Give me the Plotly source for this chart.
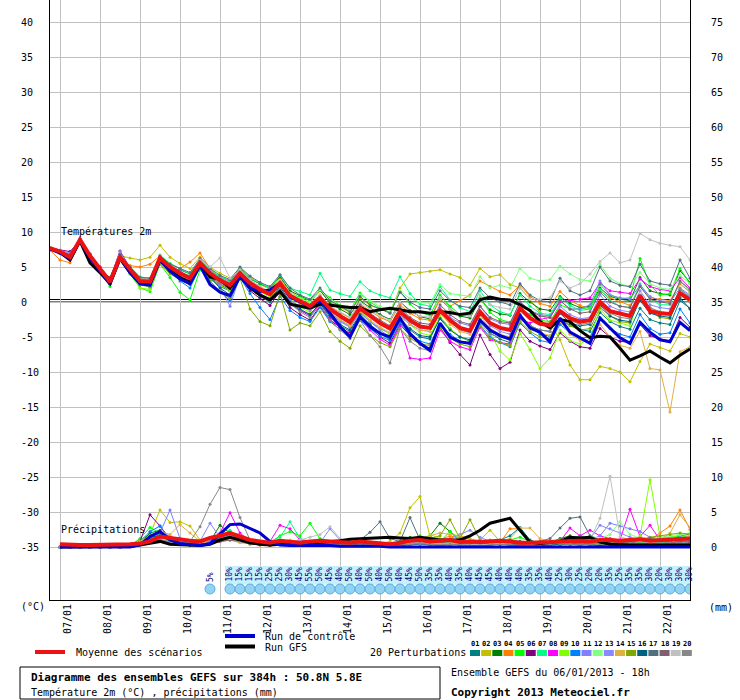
#!/usr/bin/env python3
"""
plot.py - Diagramme des ensembles GEFS (T2m + précipitations), style Meteociel
"""

import plotly.graph_objects as go

# Pas de 6h depuis le 06/01/2013 18h jusqu'à +384h
STEPS_H = list(range(0, 385, 6))
DAY_LABELS = ["07/01", "08/01", "09/01", "10/01", "11/01", "12/01", "13/01", "14/01",
              "15/01", "16/01", "17/01", "18/01", "19/01", "20/01", "21/01", "22/01"]
DAY_HOURS = [6 + 24 * k for k in range(16)]
TEMP_TICKS = list(range(-35, 41, 5))
RAIN_TICKS = list(range(0, 76, 5))

# Températures 2m (°C), 65 échéances
T_MEAN = [7.7, 7.2, 6.4, 8.9, 6.6, 4.8, 2.9, 6.4, 4.6, 3.0, 2.9, 6.3, 5.0, 4.1, 3.4, 5.6, 4.1,
          3.1, 2.4, 4.1, 2.7, 1.8, 1.1, 2.7, 0.9, 0.1, -0.6, 0.6, -1.0, -2.0, -2.9, -0.9, -1.9,
          -3.0, -3.8, -1.4, -2.6, -3.5, -3.7, -1.2, -2.6, -3.7, -4.1, -1.4, -3.0, -3.7, -4.0, -0.9, -2.3,
          -3.1, -3.3, -1.3, -2.3, -2.8, -2.6, 0.0, -1.3, -1.7, -2.0, 0.9, -1.3, -1.6, -1.7, 1.3, 0.3]
T_CTRL = [7.6, 7.0, 6.2, 8.8, 6.3, 4.5, 2.6, 6.3, 4.2, 2.6, 2.4, 6.0, 4.4, 3.3, 2.6, 5.2, 2.5,
          1.4, 0.9, 3.6, 2.0, 1.5, 1.7, 2.7, 0.7, 0.0, -0.7, 0.3, -1.6, -3.5, -5.0, -2.1, -3.5,
          -4.5, -5.0, -2.3, -4.5, -5.9, -6.9, -3.0, -5.0, -5.7, -5.9, -2.6, -4.0, -4.8, -5.3, -1.9, -3.7,
          -4.3, -5.7, -2.3, -4.3, -5.1, -5.9, -2.3, -3.7, -5.1, -5.9, -2.9, -4.3, -5.4, -5.7, -2.9, -4.1]
T_GFS = [7.6, 7.1, 6.0, 8.7, 5.6, 4.2, 2.6, 6.2, 4.2, 2.7, 2.6, 6.0, 4.5, 3.5, 2.8, 5.3, 3.6,
         3.2, 2.0, 4.0, 2.0, 1.0, 0.3, 1.5, -0.3, -0.6, -0.9, -0.3, -0.5, -0.6, -0.8, -0.8, -1.4,
         -1.1, -0.9, -1.1, -1.4, -1.4, -1.6, -1.4, -1.5, -1.8, -1.6, 0.3, 0.7, 0.4, 0.3, -0.4, -1.2,
         -2.8, -3.7, -2.5, -2.8, -4.1, -5.1, -4.9, -5.0, -6.6, -8.3, -7.7, -7.0, -7.9, -8.7, -7.6, -6.7]

t01 = [7.6, 7.0, 6.2, 8.7, 6.3, 4.5, 2.7, 6.3, 4.5, 2.6, 2.5, 5.8, 4.6, 3.5, 3.0, 5.2, 3.4,
       2.2, 1.6, 3.6, 2.0, 0.8, 0.0, 1.8, -0.3, -1.2, -1.8, -0.2, -2.2, -3.4, -4.2, -2.0, -3.3,
       -4.5, -5.4, -2.6, -4.0, -5.0, -5.3, -2.2, -3.8, -5.0, -5.6, -2.5, -4.4, -5.3, -5.8, -2.4, -3.6,
       -4.6, -4.9, -2.6, -3.3, -3.9, -4.2, -1.5, -2.8, -3.5, -3.9, -0.9, -2.5, -3.0, -3.2, 0.2, -0.9]
t02 = [7.8, 7.3, 6.6, 8.8, 6.9, 5.0, 3.3, 6.6, 6.3, 6.0, 6.4, 8.1, 6.4, 5.5, 4.8, 6.4, 5.0,
       4.1, 3.4, 4.8, 3.6, 2.5, 1.8, 3.4, 1.5, 0.6, -0.1, 1.6, 0.0, -0.8, -1.5, 0.6, -0.5,
       -1.0, -1.5, 2.0, 4.0, 4.2, 4.4, 4.6, 4.0, 3.5, 2.4, 4.8, 3.6, 3.9, 2.5, 2.0, 0.4,
       -1.5, -3.0, -5.4, -9.0, -11.1, -11.1, -9.2, -9.5, -10.0, -11.4, -8.5, -6.0, -6.5, -7.0, -4.5, -5.0]
t03 = [7.7, 7.3, 6.5, 8.9, 6.5, 4.6, 3.5, 6.8, 4.4, 3.2, 2.0, 6.0, 4.8, 4.6, 4.0, 5.9, 4.5,
       3.6, 3.0, 4.8, 3.3, 2.6, 2.0, 3.6, 1.6, 0.9, 0.2, 1.7, -0.2, -1.0, -1.8, 0.2, -0.8,
       -1.8, -2.5, 0.0, -1.2, -2.1, -2.4, 0.5, -1.0, -2.0, -2.3, 0.4, -1.1, -1.7, -1.9, 1.2, 0.0,
       -1.0, -1.2, 0.8, -0.2, -0.8, -0.6, 2.0, 0.8, 0.4, 0.2, 3.5, 1.6, 1.2, 1.0, 4.5, 2.8]
t04 = [7.4, 6.0, 5.6, 8.6, 6.7, 4.9, 3.1, 6.4, 5.2, 5.0, 5.4, 6.6, 5.5, 4.8, 5.7, 7.0, 4.8,
       3.4, 2.8, 4.6, 3.0, 2.0, 1.4, 3.2, 1.2, 0.3, -0.3, 1.0, -0.6, -1.5, -2.3, -0.3, -1.2,
       -2.2, -2.8, -0.4, -1.6, -2.4, -2.6, 0.4, -0.6, 0.2, 1.0, 3.0, 2.2, 1.5, 1.0, 2.4, 0.8,
       -0.2, -0.6, 1.5, 0.2, -0.5, -0.9, 1.6, 0.6, 0.0, -0.5, 2.2, 0.6, 0.4, 0.2, 2.6, 1.4]
t05 = [7.7, 7.2, 6.3, 8.9, 6.4, 4.6, 2.2, 6.0, 4.0, 2.0, 1.5, 5.4, 3.5, 1.4, 0.3, 4.6, 3.2,
       2.4, 1.8, 3.8, 2.3, 1.6, 1.1, 2.9, 1.0, 0.7, 0.2, 1.7, 0.6, -0.5, -1.2, 1.3, 0.0,
       -0.9, -1.5, 1.5, -0.3, -1.5, -1.9, 1.0, -0.6, -1.8, -2.0, 0.6, -1.5, -2.5, -2.9, -0.8, -1.8,
       -2.6, -2.8, -0.4, -1.0, -1.0, -0.8, 2.5, 1.0, 0.5, 0.6, 6.2, 2.4, 1.0, 1.2, 4.8, 2.6]
t06 = [7.7, 7.4, 7.2, 8.8, 6.8, 5.0, 3.3, 7.3, 4.9, 2.8, 2.4, 6.0, 4.6, 3.6, 3.0, 5.4, 3.6,
       2.5, 1.6, 3.5, 1.6, 0.5, -0.5, 1.6, -0.8, -1.8, -2.6, -0.6, -2.6, -3.6, -4.5, -2.2, -3.6,
       -5.0, -5.9, -3.2, -4.8, -6.0, -6.6, -3.6, -5.8, -7.5, -9.0, -4.7, -7.5, -9.5, -8.6, -4.0, -5.6,
       -6.3, -6.8, -4.4, -5.6, -6.4, -6.6, -3.8, -5.0, -5.6, -5.8, -3.2, -4.8, -5.3, -5.5, -2.2, -3.6]
t07 = [7.7, 7.1, 6.4, 8.9, 6.7, 4.9, 3.0, 6.5, 5.0, 3.6, 3.4, 6.7, 5.5, 4.7, 4.0, 6.0, 4.6,
       3.6, 3.0, 4.7, 3.4, 2.7, 2.0, 3.8, 2.0, 1.5, 1.0, 4.1, 1.7, 1.2, 0.8, 2.9, 1.6,
       1.0, 0.6, 3.6, 1.2, -0.3, -0.6, 2.2, 0.3, -0.8, -1.4, 1.6, -0.4, -1.4, -1.8, 1.0, -0.6,
       -1.6, -1.8, 0.6, -0.5, -1.2, -1.0, 1.8, 0.2, -0.6, -0.8, 2.6, 0.4, -0.4, -0.4, 3.0, 1.5]
t08 = [7.7, 7.2, 6.4, 8.9, 6.6, 4.7, 2.8, 6.2, 4.5, 2.9, 2.7, 6.1, 4.8, 3.9, 3.2, 5.4, 3.9,
       2.8, 2.0, 3.9, 2.3, 1.2, 0.4, 2.1, 0.0, -1.2, -2.0, -0.4, -2.5, -3.6, -4.6, -2.4, -4.0,
       -5.3, -6.2, -3.5, -8.0, -8.2, -8.0, -4.0, -5.6, -6.4, -6.8, -3.6, -5.4, -5.8, -6.0, -2.4, -3.0,
       -2.5, -2.2, 0.0, 0.2, 0.4, 0.6, 2.7, 1.6, 1.4, 1.2, 3.3, 2.2, 1.8, 1.6, 3.5, 2.0]
t09 = [7.7, 7.2, 6.5, 8.9, 6.5, 4.8, 2.5, 6.2, 4.1, 2.0, 1.8, 5.6, 4.2, 3.2, 2.5, 5.0, 3.4,
       2.4, 1.6, 3.9, 2.5, 1.5, 0.6, 2.5, 0.4, -0.7, -1.5, 0.6, -1.6, -2.6, -3.4, -1.2, -2.6,
       -3.8, -4.6, -2.0, -3.2, -4.4, -4.8, -2.0, -3.8, -5.0, -5.5, -2.4, -4.4, -7.0, -8.3, -4.5, -6.8,
       -9.5, -8.0, -4.0, -5.5, -6.0, -5.2, -1.0, -2.6, -3.0, -3.4, 1.0, -1.0, -1.4, -1.6, 2.0, 0.6]
t10 = [7.6, 7.0, 6.2, 8.7, 6.4, 4.5, 2.6, 6.3, 4.3, 2.5, 2.2, 5.8, 4.4, 3.0, 2.0, 5.0, 3.0,
       1.5, 0.2, 3.5, 1.2, -0.8, -2.5, 0.8, -1.2, -2.2, -2.8, -0.8, -2.8, -3.9, -4.8, -2.6, -3.8,
       -4.9, -5.5, -3.0, -4.6, -5.6, -6.0, -3.2, -4.6, -5.6, -6.0, -3.3, -5.0, -5.8, -6.4, -3.0, -4.4,
       -5.5, -5.8, -3.2, -4.4, -5.2, -5.0, -2.2, -3.8, -4.6, -5.0, -1.8, -3.8, -4.6, -4.4, -1.0, -3.0]
t11 = [7.8, 7.4, 7.0, 9.0, 6.9, 5.0, 3.2, 7.2, 4.8, 3.3, 3.1, 6.4, 5.2, 4.3, 3.7, 5.9, 4.2,
       2.2, -0.6, 3.8, 2.0, 1.0, 0.5, 2.0, 0.2, -0.6, -1.2, 0.2, -1.6, -2.8, -3.6, -1.4, -2.8,
       -3.8, -4.4, -1.8, -3.0, -3.4, -3.6, -0.8, -2.2, -3.0, -3.4, -0.6, -2.4, -3.0, -3.2, 0.0, -1.2,
       -1.8, -2.0, 0.2, -1.0, -1.0, -0.4, 3.0, 1.0, 0.6, 0.4, 2.4, 0.8, 0.2, 0.0, 2.0, 1.0]
t12 = [7.7, 7.2, 6.5, 8.9, 6.6, 4.8, 2.9, 6.5, 4.6, 3.0, 2.8, 6.2, 4.9, 4.0, 3.3, 5.5, 4.0,
       3.0, 2.3, 4.2, 2.8, 2.0, 1.4, 3.0, 1.3, 0.5, 0.0, 1.8, 0.4, -0.6, -1.2, 1.0, 0.2,
       -0.6, -1.2, 1.6, 0.5, 0.0, -0.2, 2.5, 1.2, 1.0, 0.8, 3.6, 2.0, 2.4, 2.0, 4.8, 3.4,
       3.0, 3.2, 5.1, 4.0, 3.2, 3.0, 5.4, 3.4, 2.6, 2.2, 4.2, 2.6, 2.0, 1.8, 3.8, 2.6]
t13 = [7.7, 7.2, 6.6, 9.0, 6.8, 5.0, 3.1, 6.6, 4.9, 3.4, 3.2, 6.6, 5.3, 4.4, 3.6, 5.8, 4.4,
       3.4, 2.8, 4.5, 3.1, 2.2, 1.4, 2.8, 0.9, -0.2, -1.0, 0.4, -1.4, -2.6, -3.6, -1.6, -2.8,
       -4.0, -5.0, -2.0, -3.2, -4.0, -4.2, -1.2, -2.8, -4.0, -4.4, -1.6, -3.4, -4.2, -4.6, -1.0, -2.2,
       -3.0, -3.2, -0.6, -1.8, -2.4, -2.2, 1.0, -0.6, -1.2, -1.4, 1.6, -0.4, -0.8, -1.0, 1.8, 0.8]
t14 = [7.6, 7.0, 6.2, 8.8, 6.5, 4.8, 3.0, 6.4, 4.8, 3.4, 3.4, 6.6, 5.2, 4.2, 3.5, 5.8, 4.2,
       3.1, 2.5, 4.1, 2.7, 1.9, 1.2, 2.7, 0.8, -0.2, -1.0, 0.4, -1.5, -2.5, -3.4, -1.4, -2.6,
       -3.6, -4.4, -2.0, -3.2, -4.0, -4.2, -1.6, -3.2, -4.2, -4.6, -1.9, -3.8, -4.6, -5.0, -2.0, -3.4,
       -4.4, -4.8, -2.8, -4.6, -5.5, -5.8, -3.2, -5.0, -6.2, -6.6, -4.2, -9.5, -9.7, -15.7, -7.1, -6.4]
t15 = [7.7, 7.1, 6.3, 8.8, 6.3, 4.5, 2.6, 6.2, 4.2, 2.4, 2.2, 5.5, 4.0, 3.2, 2.5, 4.8, 3.0,
       1.5, 0.5, 3.4, -1.0, -2.8, -3.4, 1.2, -4.0, -3.0, -3.4, -1.4, -4.2, -5.6, -6.6, -3.4, -4.8,
       -5.8, -6.4, -3.8, -5.2, -6.0, -6.2, -3.8, -5.2, -6.0, -6.4, -3.4, -5.2, -5.8, -6.2, -2.8, -4.2,
       -5.0, -5.2, -2.4, -3.4, -4.0, -3.8, -0.8, -2.0, -2.8, -3.0, 0.6, -1.4, -2.2, -2.4, 1.0, 0.0]
t16 = [7.6, 7.0, 6.3, 8.8, 6.4, 4.6, 2.8, 6.3, 4.4, 2.7, 2.4, 6.0, 4.5, 3.5, 2.8, 5.1, 3.5,
       2.0, 1.0, 3.6, 2.0, 1.0, 0.4, 2.2, 0.0, -1.0, -1.8, -0.2, -2.0, -3.2, -4.0, -1.8, -3.2,
       -4.4, -5.2, -2.4, -3.8, -4.8, -5.0, -2.4, -4.0, -5.0, -5.4, -2.6, -4.2, -4.8, -5.2, -1.8, -3.4,
       -4.0, -4.2, -1.6, -3.0, -3.4, -3.2, -0.4, -2.0, -2.6, -2.8, 0.2, -1.6, -2.0, -2.2, 0.6, -1.0]
t17 = [7.7, 7.2, 6.6, 8.9, 6.7, 4.9, 3.2, 6.7, 5.0, 3.5, 3.4, 6.5, 5.4, 4.8, 4.2, 6.2, 4.8,
       3.8, 3.2, 5.0, 3.7, 2.8, 2.2, 3.9, 2.0, 1.0, 0.4, 2.0, 0.2, -0.6, -1.4, 0.8, -0.4,
       -1.0, -1.6, 1.4, 0.0, -0.8, -1.0, 1.6, 0.2, -0.6, -0.8, 2.0, 0.6, 0.0, -0.4, 2.6, 1.0,
       0.2, 0.0, 3.4, 1.6, 1.0, 1.6, 5.0, 3.0, 2.4, 2.2, 5.4, 3.0, 2.6, 2.4, 6.0, 3.4]
t18 = [7.7, 7.3, 6.8, 9.0, 6.8, 4.9, 3.2, 6.6, 4.8, 3.2, 3.0, 6.4, 5.1, 4.3, 3.6, 5.7, 4.2,
       3.2, 2.6, 4.3, 2.9, 1.9, 1.2, 2.8, 1.0, 0.0, -0.6, 0.8, -0.8, -1.8, -2.6, -0.4, -1.6,
       -2.6, -3.4, -0.8, -2.2, -3.0, -3.2, -0.4, -1.8, -2.8, -3.2, -0.6, -2.2, -2.8, -3.0, 0.0, -1.2,
       -2.0, -2.2, 0.2, -1.0, -1.6, -1.4, 1.4, 0.0, -0.6, -0.8, 2.2, 0.4, 0.0, -0.2, 3.0, 1.8]
t19 = [7.7, 7.2, 6.5, 8.9, 6.6, 4.8, 3.0, 6.5, 4.7, 3.2, 3.1, 6.3, 5.0, 4.1, 3.6, 6.0, 5.0,
       6.3, 3.4, 4.6, 3.2, 2.2, 1.5, 3.1, 1.2, 0.2, -0.4, 1.0, -0.6, -1.4, -2.2, 0.0, -1.0,
       -2.0, -2.6, 0.0, -1.4, -2.0, -2.2, 0.6, -1.0, -1.8, -2.0, 1.0, -0.4, -0.8, -1.0, 2.0, 0.4,
       0.4, 0.6, 3.0, 2.0, 2.6, 4.0, 5.8, 7.0, 5.6, 6.0, 9.8, 8.9, 8.4, 8.1, 7.9, 6.0]
t20 = [7.7, 7.1, 6.3, 8.8, 6.4, 4.5, 2.6, 6.4, 4.4, 2.8, 2.6, 6.0, 4.6, 3.7, 2.9, 5.3, 3.7,
       2.6, 1.9, 3.7, 2.1, 1.0, 0.2, 2.0, -0.2, -1.4, -2.2, -0.4, -2.6, -4.0, -5.2, -2.6, -4.8,
       -6.4, -8.7, -3.8, -5.6, -6.6, -7.0, -3.4, -5.0, -5.6, -6.0, -3.0, -4.6, -5.0, -5.4, -2.0, -3.4,
       -4.0, -4.2, -1.4, -2.6, -3.2, -3.0, -0.2, -1.6, -2.2, -2.4, 1.0, -0.8, -1.4, -1.6, 1.8, 0.6]

# Précipitations (mm / 6h), 64 échéances à partir de +6h
P_MEAN = [0.4, 0.3, 0.3, 0.3, 0.3, 0.3, 0.3, 0.4, 0.5, 0.8, 1.5, 1.3, 1.0, 0.9, 0.8, 1.3,
          1.6, 2.0, 1.5, 1.0, 0.8, 0.6, 0.9, 0.8, 0.6, 0.8, 0.9, 0.8, 0.7, 0.6, 0.8, 0.7,
          0.5, 0.4, 0.6, 0.9, 1.0, 0.8, 0.9, 1.0, 0.7, 0.8, 0.7, 0.8, 0.9, 0.8, 0.6, 0.6,
          0.6, 0.7, 0.8, 0.9, 0.9, 0.8, 1.0, 1.0, 0.9, 1.0, 1.1, 0.9, 1.0, 1.1, 1.1, 1.2]
P_CTRL = [0.0, 0.0, 0.0, 0.0, 0.0, 0.0, 0.0, 0.0, 0.3, 1.5, 2.2, 1.0, 0.5, 0.3, 0.2, 0.5,
          1.8, 3.2, 3.3, 2.6, 2.0, 0.8, 0.3, 0.2, 0.2, 0.3, 0.2, 0.2, 0.1, 0.1, 0.2, 0.1,
          0.1, 0.0, 0.0, 0.0, 0.0, 0.0, 0.0, 0.0, 0.0, 0.0, 0.0, 0.0, 0.0, 0.0, 0.0, 0.0,
          0.0, 0.0, 0.0, 0.1, 0.0, 0.0, 0.0, 0.0, 0.0, 0.0, 0.0, 0.0, 0.0, 0.0, 0.0, 0.0]
P_GFS = [0.0, 0.0, 0.0, 0.0, 0.0, 0.0, 0.0, 0.1, 0.3, 0.6, 0.8, 0.4, 0.3, 0.2, 0.2, 0.4,
         1.0, 1.4, 1.0, 0.6, 0.4, 0.3, 0.4, 0.5, 0.4, 0.5, 0.6, 0.8, 0.9, 1.1, 1.2, 1.3,
         1.4, 1.4, 1.3, 1.2, 1.4, 1.2, 1.0, 1.0, 1.0, 1.6, 2.4, 3.4, 3.7, 4.1, 2.4, 0.7,
         0.5, 0.6, 0.8, 1.4, 1.3, 1.4, 0.7, 0.4, 0.3, 0.3, 0.3, 0.3, 0.3, 0.3, 0.3, 0.3]

p01 = [0, 0, 0, 0, 0, 0, 0, 0.1, 0.4, 1.2, 1.8, 0.8, 0.4, 0.2, 0.3, 0.6,
       1.5, 2.2, 1.4, 0.6, 0.4, 0.2, 0.5, 0.4, 0.3, 0.5, 0.6, 0.3, 0.2, 0.2, 0.3, 0.4,
       0.3, 0.2, 0.2, 0.4, 0.8, 0.6, 0.4, 0.5, 0.6, 0.4, 0.3, 0.6, 1.0, 1.6, 2.8, 1.0,
       0.5, 0.4, 0.6, 0.8, 0.6, 0.5, 0.7, 0.8, 0.6, 0.5, 0.4, 0.6, 0.5, 0.4, 0.6, 0.5]
p02 = [0, 0, 0, 0, 0, 0, 0, 0.3, 1.0, 1.8, 5.3, 3.5, 3.6, 3.0, 1.0, 0.5,
       0.8, 1.2, 0.8, 0.4, 0.3, 0.2, 0.4, 0.3, 0.2, 0.3, 0.4, 0.3, 0.2, 0.3, 0.4, 0.3,
       0.4, 0.8, 2.0, 5.6, 7.2, 1.5, 1.0, 0.8, 0.6, 0.8, 1.0, 2.4, 0.8, 0.6, 0.4, 0.3,
       0.3, 0.2, 0.3, 0.5, 0.6, 0.4, 0.3, 0.5, 0.6, 0.4, 0.3, 0.5, 0.6, 0.8, 1.0, 0.9]
p03 = [0, 0, 0, 0, 0, 0, 0.1, 0.2, 0.6, 2.0, 2.4, 1.0, 0.6, 0.4, 0.3, 0.8,
       3.1, 2.0, 1.0, 0.6, 0.4, 0.3, 0.5, 0.6, 0.4, 0.6, 0.8, 0.5, 0.3, 0.2, 0.4, 0.5,
       0.6, 0.4, 0.8, 1.4, 1.2, 1.6, 3.4, 2.2, 0.8, 0.6, 0.5, 0.4, 0.6, 0.8, 0.6, 0.4,
       0.5, 0.6, 1.2, 1.6, 1.0, 0.6, 0.5, 0.8, 0.6, 0.4, 0.5, 0.6, 0.8, 1.0, 1.6, 1.8]
p04 = [0, 0, 0, 0, 0, 0, 0, 0.1, 0.5, 0.8, 1.0, 0.8, 0.6, 0.5, 0.4, 0.6,
       1.2, 1.0, 0.8, 0.5, 0.3, 0.2, 0.4, 0.3, 0.3, 0.4, 0.5, 0.3, 0.2, 0.3, 0.4, 0.3,
       0.4, 0.3, 0.6, 1.0, 1.4, 1.2, 1.0, 1.6, 1.2, 0.8, 0.6, 1.0, 0.6, 2.6, 2.6, 0.5,
       0.4, 0.3, 0.5, 0.6, 0.8, 0.6, 0.5, 0.6, 0.8, 0.6, 0.8, 1.0, 2.0, 3.0, 5.3, 2.5]
p05 = [0, 0, 0, 0, 0, 0, 0, 0.2, 1.2, 2.8, 2.0, 1.4, 0.8, 0.6, 0.4, 0.8,
       1.8, 1.4, 0.8, 0.6, 0.5, 0.6, 1.6, 2.2, 1.6, 3.4, 1.2, 0.8, 0.6, 0.8, 1.0, 0.6,
       0.4, 0.3, 0.5, 0.8, 1.6, 1.0, 0.8, 2.2, 1.2, 0.8, 0.6, 0.5, 0.8, 1.0, 1.4, 0.8,
       0.6, 0.5, 0.8, 1.2, 1.6, 1.2, 0.8, 0.6, 0.8, 1.0, 0.6, 0.8, 1.2, 1.4, 1.6, 1.4]
p06 = [0, 0, 0, 0, 0, 0, 0, 0.1, 0.8, 4.6, 3.0, 1.0, 0.5, 0.4, 0.3, 0.5,
       1.0, 1.4, 0.8, 0.5, 0.4, 0.3, 0.5, 0.6, 0.5, 0.6, 0.7, 0.5, 0.4, 0.3, 0.3, 0.4,
       0.3, 0.2, 0.3, 0.5, 0.6, 0.5, 0.4, 0.5, 0.4, 0.3, 0.3, 0.4, 0.5, 0.6, 0.8, 0.6,
       0.5, 0.4, 0.6, 0.8, 0.7, 0.6, 0.5, 0.6, 0.7, 0.5, 0.4, 0.6, 0.5, 0.6, 0.8, 0.7]
p07 = [0, 0, 0, 0, 0, 0, 0, 0.1, 0.6, 1.5, 1.8, 1.2, 0.8, 0.5, 0.4, 0.6,
       1.6, 2.4, 1.2, 0.6, 0.5, 0.8, 1.4, 3.6, 1.2, 0.8, 0.6, 0.5, 0.4, 0.6, 0.8, 0.5,
       0.4, 0.3, 0.4, 0.6, 0.8, 0.6, 0.5, 0.7, 0.6, 0.5, 0.4, 0.6, 0.8, 0.6, 0.5, 0.4,
       0.5, 0.6, 0.8, 1.0, 0.8, 0.6, 0.5, 0.7, 0.8, 0.6, 0.5, 0.7, 0.6, 0.8, 1.0, 0.9]
p08 = [0, 0, 0, 0, 0, 0, 0, 0.1, 0.5, 1.0, 1.4, 1.0, 0.6, 0.4, 0.4, 0.8,
       2.0, 4.9, 2.0, 0.8, 0.6, 0.8, 3.1, 2.6, 1.0, 0.8, 0.6, 0.5, 0.4, 0.3, 0.4, 0.5,
       0.4, 0.3, 0.4, 0.5, 0.6, 0.5, 0.4, 0.5, 0.6, 0.5, 0.4, 0.6, 0.8, 0.6, 0.5, 0.4,
       0.5, 0.6, 0.8, 2.7, 1.6, 2.4, 1.6, 1.2, 1.0, 5.4, 1.5, 3.1, 1.0, 0.8, 1.2, 1.0]
p09 = [0, 0, 0, 0, 0, 0, 0, 0.1, 0.5, 1.0, 1.2, 1.0, 0.6, 0.4, 0.3, 0.5,
       1.0, 1.2, 0.8, 0.5, 0.4, 0.5, 0.8, 1.0, 0.8, 0.6, 0.5, 0.4, 0.3, 0.4, 0.5, 0.4,
       0.3, 0.2, 0.3, 0.5, 0.8, 1.8, 1.2, 0.6, 0.5, 0.4, 0.3, 0.4, 0.5, 0.6, 0.5, 0.4,
       0.5, 0.6, 0.8, 0.6, 0.5, 0.6, 0.8, 0.6, 0.8, 0.6, 1.5, 9.6, 1.5, 1.2, 1.8, 2.0]
p10 = [0, 0, 0, 0, 0, 0, 0, 0.2, 0.8, 2.2, 3.0, 1.2, 0.6, 0.4, 0.3, 0.5,
       1.4, 1.8, 1.0, 0.5, 0.4, 0.3, 0.4, 0.3, 0.2, 0.3, 0.4, 0.3, 0.2, 0.2, 0.3, 0.2,
       0.2, 0.1, 0.2, 0.3, 0.4, 0.3, 0.2, 0.3, 0.3, 0.2, 0.2, 0.3, 0.4, 0.3, 0.2, 0.2,
       0.3, 0.4, 0.5, 0.4, 0.3, 0.4, 0.5, 0.4, 0.3, 0.4, 0.5, 0.4, 0.3, 0.4, 0.5, 0.4]
p11 = [0, 0, 0, 0, 0, 0, 0, 0.1, 0.6, 1.2, 2.0, 5.3, 1.2, 0.6, 0.4, 0.8,
       1.2, 1.6, 1.0, 0.6, 0.5, 0.4, 0.6, 0.5, 0.4, 0.5, 0.6, 0.4, 0.3, 0.4, 0.5, 0.4,
       0.3, 0.4, 0.5, 0.6, 0.5, 0.4, 0.3, 0.4, 0.5, 0.4, 0.3, 0.4, 0.5, 0.6, 0.5, 0.4,
       0.5, 0.6, 0.5, 0.6, 0.8, 1.0, 1.6, 3.4, 3.0, 2.6, 2.2, 1.4, 1.2, 1.0, 1.4, 1.2]
p12 = [0, 0, 0, 0, 0, 0, 0, 0.1, 0.4, 0.8, 1.0, 0.8, 0.6, 0.4, 0.3, 0.5,
       1.0, 1.2, 0.8, 0.6, 0.5, 0.4, 0.6, 0.8, 0.6, 0.5, 0.4, 0.4, 0.3, 0.4, 0.6, 0.8,
       0.6, 0.5, 0.4, 0.5, 0.6, 0.8, 0.6, 0.5, 0.4, 0.5, 0.6, 0.8, 1.0, 0.8, 0.6, 0.5,
       0.6, 0.8, 1.0, 1.2, 1.0, 1.6, 1.2, 1.8, 3.6, 1.8, 1.2, 1.0, 1.4, 1.6, 1.8, 1.6]
p13 = [0, 0, 0, 0, 0, 0, 0, 0.1, 0.6, 1.4, 2.0, 1.6, 0.8, 0.5, 0.8, 3.4,
       1.4, 1.2, 0.8, 0.6, 0.5, 0.4, 0.6, 0.8, 1.0, 0.8, 0.6, 2.6, 1.0, 0.8, 0.6, 0.5,
       0.4, 0.3, 0.4, 0.6, 0.8, 0.6, 0.5, 1.2, 1.8, 2.4, 1.4, 0.8, 0.6, 0.5, 0.4, 0.6,
       0.5, 0.6, 0.8, 1.0, 0.8, 1.2, 3.1, 2.6, 2.0, 1.4, 1.0, 0.8, 1.2, 1.0, 0.8, 0.9]
p14 = [0, 0, 0, 0, 0, 0, 0, 0.2, 0.8, 1.6, 2.2, 1.8, 3.2, 2.0, 0.8, 0.5,
       0.8, 1.0, 0.6, 0.4, 0.3, 0.4, 0.6, 0.5, 0.4, 0.5, 0.6, 0.4, 0.3, 0.4, 0.3, 0.4,
       0.3, 0.4, 0.6, 0.8, 1.0, 1.6, 2.0, 1.8, 1.6, 1.2, 0.8, 0.6, 0.8, 1.2, 2.7, 2.7,
       1.2, 0.8, 0.6, 0.5, 0.8, 0.6, 0.5, 0.7, 0.8, 1.0, 1.4, 1.2, 1.0, 2.0, 4.6, 2.8]
p15 = [0, 0, 0, 0, 0, 0, 0, 0.1, 0.4, 0.8, 1.0, 0.8, 0.5, 0.4, 0.3, 0.5,
       1.0, 1.2, 0.8, 0.5, 0.4, 0.3, 0.4, 0.3, 0.3, 0.4, 0.5, 0.4, 0.3, 0.2, 0.3, 0.4,
       0.3, 0.4, 0.6, 1.0, 1.4, 1.2, 1.6, 3.9, 1.2, 3.9, 1.0, 0.8, 0.6, 0.5, 0.4, 0.5,
       0.6, 0.8, 1.0, 0.8, 0.6, 0.5, 0.8, 1.2, 0.8, 0.6, 1.0, 1.4, 1.6, 1.8, 2.0, 1.8]
p16 = [0, 0, 0, 0, 0, 0, 0, 0.1, 0.5, 1.4, 1.6, 1.0, 0.6, 0.4, 0.4, 0.6,
       1.8, 2.0, 1.2, 0.6, 0.4, 0.3, 0.4, 0.3, 0.2, 0.3, 0.4, 0.3, 0.2, 0.2, 0.3, 0.2,
       0.2, 0.2, 0.3, 0.4, 0.5, 0.4, 0.3, 0.4, 0.3, 0.2, 0.2, 0.3, 0.4, 0.3, 0.2, 0.2,
       0.2, 0.3, 0.4, 0.5, 0.4, 0.3, 0.2, 0.3, 0.2, 0.3, 0.2, 0.3, 0.4, 0.3, 0.2, 0.3]
p17 = [0, 0, 0, 0, 0, 0, 0, 0.1, 0.5, 1.0, 1.4, 1.0, 0.6, 0.5, 0.4, 0.6,
       1.2, 1.4, 1.0, 0.6, 0.5, 0.4, 0.5, 0.4, 0.4, 0.5, 0.6, 0.5, 0.4, 0.6, 1.0, 2.1,
       3.6, 1.2, 0.8, 4.2, 1.0, 0.8, 0.6, 0.5, 0.6, 0.5, 0.4, 0.6, 0.8, 1.0, 0.8, 0.6,
       0.8, 1.2, 2.7, 4.1, 4.3, 1.6, 1.0, 0.8, 0.6, 0.8, 1.0, 1.2, 1.0, 0.8, 1.2, 1.0]
p18 = [0, 0, 0, 0, 0, 0, 0, 0.1, 0.4, 0.8, 1.0, 0.8, 0.5, 0.4, 0.3, 0.5,
       0.8, 1.0, 0.8, 0.5, 0.4, 0.3, 0.4, 0.3, 0.3, 0.4, 0.5, 0.3, 0.2, 0.3, 0.4, 0.3,
       0.3, 0.2, 0.3, 0.4, 0.5, 0.4, 0.3, 0.4, 0.4, 0.3, 0.3, 0.4, 0.5, 0.4, 0.3, 0.3,
       0.4, 0.5, 0.6, 0.5, 0.4, 0.6, 0.8, 0.6, 0.5, 0.6, 0.8, 0.6, 0.5, 0.6, 0.8, 0.7]
p19 = [0, 0, 0, 0, 0, 0, 0, 0.1, 0.4, 0.8, 1.0, 0.8, 0.6, 0.4, 0.3, 0.6,
       1.0, 1.2, 0.8, 0.6, 0.5, 0.4, 0.6, 0.8, 1.0, 1.4, 1.8, 2.9, 1.2, 0.8, 0.6, 0.5,
       0.4, 0.3, 0.4, 0.5, 0.6, 0.5, 0.4, 0.5, 0.4, 0.3, 0.3, 0.4, 0.5, 0.6, 0.5, 0.4,
       0.5, 0.6, 0.5, 0.6, 0.8, 1.0, 4.1, 10.1, 1.5, 1.0, 0.8, 0.6, 0.8, 1.0, 1.2, 1.6]
p20 = [0, 0, 0, 0, 0, 0, 0, 0.1, 0.4, 0.8, 1.0, 0.8, 0.6, 0.8, 2.9, 6.1,
       8.5, 8.2, 4.2, 1.0, 0.6, 0.4, 0.5, 0.4, 0.3, 0.4, 0.5, 0.4, 0.3, 0.4, 0.5, 0.4,
       0.3, 0.2, 0.3, 0.4, 0.5, 0.4, 0.3, 0.4, 0.3, 0.2, 0.2, 0.3, 0.4, 0.3, 0.2, 0.2,
       0.3, 0.4, 0.5, 0.4, 0.3, 0.4, 0.5, 0.4, 0.5, 0.6, 0.5, 0.4, 0.5, 0.6, 0.5, 0.4]

# Probabilité de neige (%) par échéance
SNOW_PCT = [None] * 16 + [5, None] + [
    10, 15, 15, 15, 25, 25, 30, 45, 55, 50, 45, 40, 50, 40, 50, 40, 50, 40, 45, 50,
    35, 35, 40, 35, 40, 45, 45, 40, 40, 40, 35, 35, 40, 25, 30, 25, 20, 20, 35, 25,
    35, 35, 30, 20, 30, 30, 30]

T_PERTS = [t01, t02, t03, t04, t05, t06, t07, t08, t09, t10,
           t11, t12, t13, t14, t15, t16, t17, t18, t19, t20]
P_PERTS = [p01, p02, p03, p04, p05, p06, p07, p08, p09, p10,
           p11, p12, p13, p14, p15, p16, p17, p18, p19, p20]
PERT_COLORS = ["#008080", "#c0c000", "#008000", "#ff8000", "#00ff00",
               "#800080", "#00ff80", "#ff00ff", "#80ff00", "#0080ff",
               "#8080ff", "#80ff80", "#8888ff", "#e0b040", "#80a800",
               "#006080", "#507080", "#806070", "#c0c0c0", "#888888"]

for serie in T_PERTS + [T_MEAN, T_CTRL, T_GFS]:
    assert len(serie) == 65, len(serie)
for serie in P_PERTS + [P_MEAN, P_CTRL, P_GFS]:
    assert len(serie) == 64, len(serie)

# Zone de tracé : 640 x 600 px, 7 px par °C, 0°C à y=302 px
T_TOP = 302 / 7
T_BOTTOM = -298 / 7
FONT = "DejaVu Sans Mono"


def px_x(px):
    return (px - 50) / 640


def px_y(py):
    return (600 - py) / 600


def main():
    fig = go.Figure()

    # Bande et flocons de probabilité de neige
    snow_x = [h for h, p in zip(STEPS_H, SNOW_PCT) if p is not None]
    snow_p = [p for p in SNOW_PCT if p is not None]
    band_x = [h for h, p in zip(snow_x, snow_p) if p >= 10]
    fig.add_trace(go.Bar(
        x=band_x, y=[2.7] * len(band_x), base=-40.4, width=6,
        marker=dict(color="#c8f0fc", line=dict(width=0)), hoverinfo="skip"))
    fig.add_trace(go.Scatter(
        x=snow_x, y=[-41.0] * len(snow_x), mode="markers",
        marker=dict(size=10, color="#92d2f2", line=dict(color="#5aaedc", width=1)),
        hoverinfo="skip"))

    # Perturbations
    for k, (temps, rain) in enumerate(zip(T_PERTS, P_PERTS)):
        c = PERT_COLORS[k]
        fig.add_trace(go.Scatter(
            x=STEPS_H, y=temps, mode="lines+markers",
            line=dict(color=c, width=1), marker=dict(size=3, color=c),
            name=f"P{k + 1:02d}"))
        fig.add_trace(go.Scatter(
            x=STEPS_H[1:], y=rain, yaxis="y2", mode="lines+markers",
            line=dict(color=c, width=1), marker=dict(size=3, color=c),
            name=f"P{k + 1:02d} pluie"))

    # GFS, contrôle, moyenne
    for temps, rain, color, width in [(T_GFS, P_GFS, "black", 3),
                                      (T_CTRL, P_CTRL, "#0000d0", 3),
                                      (T_MEAN, P_MEAN, "#ee1111", 4)]:
        fig.add_trace(go.Scatter(x=STEPS_H, y=temps, mode="lines",
                                 line=dict(color=color, width=width)))
        fig.add_trace(go.Scatter(x=STEPS_H[1:], y=rain, yaxis="y2", mode="lines",
                                 line=dict(color=color, width=width)))

    annotations = []
    shapes = []

    # Ligne du 0°C double
    for yv in (0.0, 0.36):
        shapes.append(dict(type="line", xref="paper", x0=0, x1=1, yref="y", y0=yv, y1=yv,
                           line=dict(color="black", width=1.2), layer="between"))

    # Graduations gauche (°C) et droite (mm)
    for v in TEMP_TICKS:
        annotations.append(dict(x=px_x(19), xref="paper", y=v, yref="y", text=str(v),
                                xanchor="left", yanchor="middle", showarrow=False,
                                font=dict(size=10, color="black")))
    for v in RAIN_TICKS:
        annotations.append(dict(x=px_x(709), xref="paper", y=v, yref="y2", text=str(v),
                                xanchor="left", yanchor="middle", showarrow=False,
                                font=dict(size=10, color="black")))
    annotations.append(dict(x=px_x(19), xref="paper", y=px_y(606), yref="paper", text="(°C)",
                            xanchor="left", yanchor="middle", showarrow=False,
                            font=dict(size=10, color="black")))
    annotations.append(dict(x=px_x(707), xref="paper", y=px_y(607), yref="paper", text="(mm)",
                            xanchor="left", yanchor="middle", showarrow=False,
                            font=dict(size=10, color="black")))

    # Dates
    for h, lab in zip(DAY_HOURS, DAY_LABELS):
        annotations.append(dict(x=h + 4.2, xref="x", y=px_y(602), yref="paper", text=lab,
                                textangle=-90, xanchor="center", yanchor="top",
                                showarrow=False, font=dict(size=10, color="black")))

    # Pourcentages de neige
    for h, p in zip(snow_x, snow_p):
        annotations.append(dict(x=h, xref="x", y=-40.3, yref="y", text=f"{p}%",
                                textangle=-90, xanchor="center", yanchor="bottom",
                                showarrow=False, font=dict(size=8, color="#000080")))

    # Textes dans le graphe
    annotations.append(dict(x=px_x(59), xref="paper", y=px_y(231), yref="paper",
                            text="Températures 2m", xanchor="left", yanchor="middle",
                            showarrow=False, font=dict(size=10, color="black")))
    annotations.append(dict(x=px_x(59), xref="paper", y=px_y(529), yref="paper",
                            text="Précipitations", xanchor="left", yanchor="middle",
                            showarrow=False, font=dict(size=10, color="black")))

    # Légende
    for (x0, x1, yy, color, w) in [(35, 65, 652, "#ee1111", 4),
                                   (225, 255, 636, "#0000d0", 4),
                                   (225, 255, 646.5, "black", 4)]:
        shapes.append(dict(type="line", xref="paper", yref="paper",
                           x0=px_x(x0), x1=px_x(x1), y0=px_y(yy), y1=px_y(yy),
                           line=dict(color=color, width=w)))
    for (xx, yy, txt) in [(74, 652, "Moyenne des scénarios"),
                          (263, 636, "Run de contrôle"),
                          (263, 647, "Run GFS"),
                          (368, 652, "20 Perturbations")]:
        annotations.append(dict(x=px_x(xx), xref="paper", y=px_y(yy), yref="paper", text=txt,
                                xanchor="left", yanchor="middle", showarrow=False,
                                font=dict(size=10, color="black")))
    for k, c in enumerate(PERT_COLORS):
        bx = 470 + 11.15 * k
        shapes.append(dict(type="rect", xref="paper", yref="paper",
                           x0=px_x(bx), x1=px_x(bx + 10), y0=px_y(656), y1=px_y(650),
                           fillcolor=c, line=dict(width=0)))
        annotations.append(dict(x=px_x(bx + 5), xref="paper", y=px_y(644), yref="paper",
                                text=f"<b>{k + 1:02d}</b>", xanchor="center", yanchor="middle",
                                showarrow=False, font=dict(size=7, color="black")))

    # Cartouche
    shapes.append(dict(type="rect", xref="paper", yref="paper",
                       x0=px_x(20), x1=px_x(440), y0=px_y(699), y1=px_y(667),
                       line=dict(color="black", width=1)))
    for (xx, yy, txt, size) in [
            (29, 677, "<b>Diagramme des ensembles GEFS sur 384h : 50.8N 5.8E</b>", 11),
            (29, 692, "Température 2m (°C) , précipitations (mm)", 10),
            (449, 672, "Ensemble GEFS du 06/01/2013 - 18h", 10),
            (449, 692, "<b>Copyright 2013 Meteociel.fr</b>", 11)]:
        annotations.append(dict(x=px_x(xx), xref="paper", y=px_y(yy), yref="paper", text=txt,
                                xanchor="left", yanchor="middle", showarrow=False,
                                font=dict(size=size, color="black")))

    fig.update_layout(
        width=740, height=700,
        margin=dict(l=50, r=50, t=0, b=100),
        paper_bgcolor="white", plot_bgcolor="white",
        showlegend=False,
        font=dict(family=FONT, size=10, color="black"),
        xaxis=dict(range=[0, 384], tickvals=DAY_HOURS, showticklabels=False, ticks="",
                   showgrid=True, gridcolor="#c0c0c0", gridwidth=1, zeroline=False,
                   showline=True, linecolor="black", linewidth=1),
        yaxis=dict(range=[T_BOTTOM, T_TOP], tickvals=TEMP_TICKS, showticklabels=False,
                   ticks="", showgrid=True, gridcolor="#c0c0c0", gridwidth=1, zeroline=False,
                   showline=True, mirror=True, linecolor="black", linewidth=1),
        yaxis2=dict(range=[T_BOTTOM + 35, T_TOP + 35], overlaying="y", side="right",
                    showgrid=False, showticklabels=False, zeroline=False, showline=False,
                    ticks=""),
        annotations=annotations,
        shapes=shapes,
    )

    # La page n'ajoute pas de marge autour du graphique
    fig.write_html("out.html",
                   config={"displayModeBar": False},
                   post_script="document.body.style.margin='0';"
                               "document.body.style.overflow='hidden';")


if __name__ == "__main__":
    main()
